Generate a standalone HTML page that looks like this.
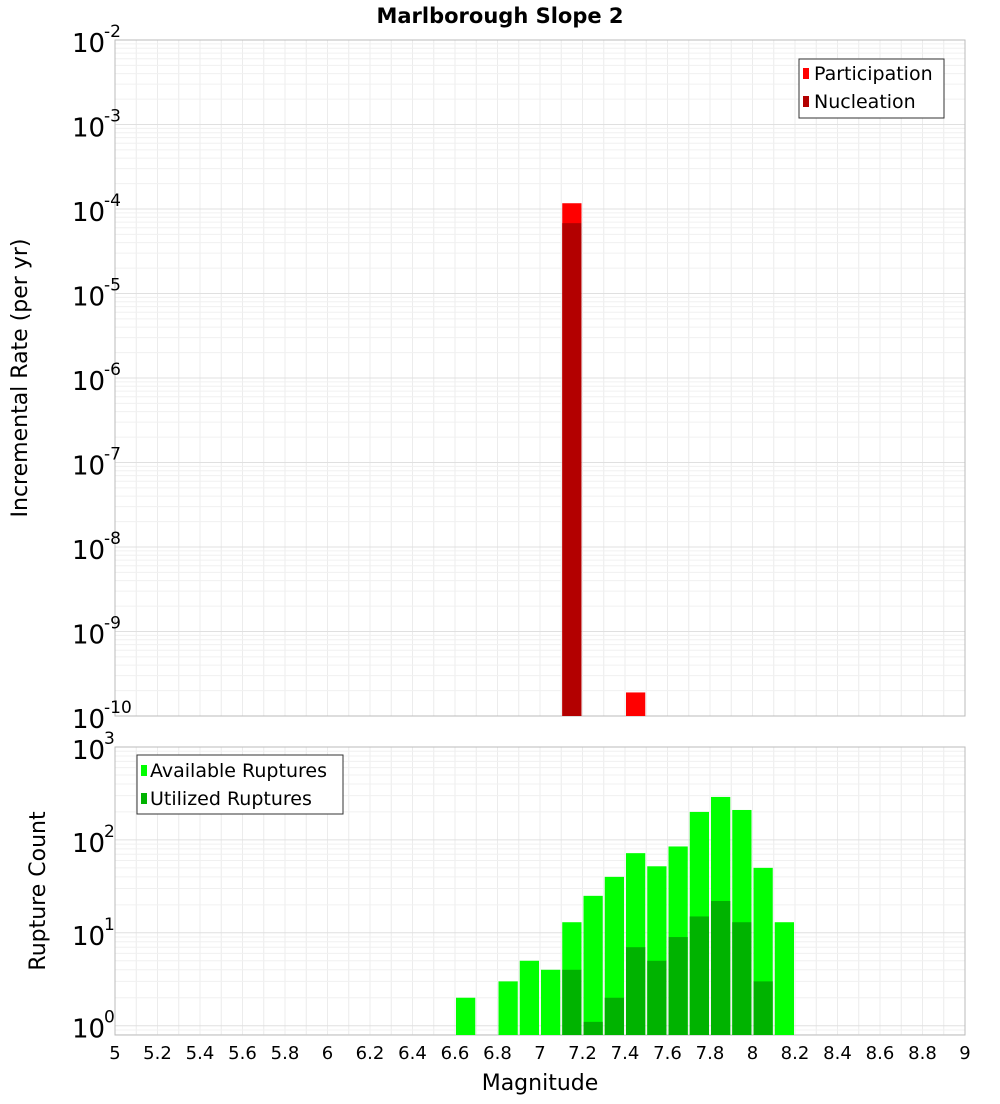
<!DOCTYPE html>
<html><head><meta charset="utf-8"><style>
body{margin:0;background:#fff;font-family:"DejaVu Sans","Liberation Sans",sans-serif}
</style></head><body>
<svg id="c" width="1000" height="1100" xmlns="http://www.w3.org/2000/svg" font-family="DejaVu Sans, Liberation Sans, sans-serif">
<text x="500" y="23" text-anchor="middle" font-size="21" font-weight="bold">Marlborough Slope 2</text>
<g id="topg"></g>
<g id="botg"></g>
<text transform="translate(27,378) rotate(-90)" text-anchor="middle" font-size="22">Incremental Rate (per yr)</text>
<text transform="translate(45,891) rotate(-90)" text-anchor="middle" font-size="22">Rupture Count</text>
<text x="540" y="1090" text-anchor="middle" font-size="22">Magnitude</text>
<g id="legs"></g>
</svg>
<script>
const xTicks=[5,5.2,5.4,5.6,5.8,6,6.2,6.4,6.6,6.8,7,7.2,7.4,7.6,7.8,8,8.2,8.4,8.6,8.8,9];
const partMags=[7.15,7.45];
const partRates=[1.17e-4,1.9e-10];
const nuclMags=[7.15];
const nuclRates=[6.8e-5];
const ruptMags=[6.65,6.85,6.95,7.05,7.15,7.25,7.35,7.45,7.55,7.65,7.75,7.85,7.95,8.05,8.15];
const availCounts=[2,3,5,4,13,25,40,72,52,85,200,290,210,50,13];
const usedMags=[7.15,7.25,7.35,7.45,7.55,7.65,7.75,7.85,7.95,8.05];
const usedCounts=[4,1.1,2,7,5,9,15,22,13,3];
const topExps=[-2,-3,-4,-5,-6,-7,-8,-9,-10];
const botExps=[3,2,1,0];
const NS="http://www.w3.org/2000/svg";
const L=115,R=965;
const xS=m=>L+(m-5)/4*(R-L);
function mk(p,t,a){const e=document.createElementNS(NS,t);for(const k in a)e.setAttribute(k,a[k]);p.appendChild(e);return e;}
function panel(g,T,B,lmin,lmax,exps){
 const yS=v=>B-(Math.log10(v)-lmin)/(lmax-lmin)*(B-T);
 for(let i=0;i<=40;i++){const m=5+i*0.1;mk(g,'line',{x1:xS(m),x2:xS(m),y1:T,y2:B,stroke:'#ececec'});}
 for(let e=Math.floor(lmin);e<lmax;e++)for(let k=1;k<10;k++){const v=k*Math.pow(10,e);const lv=Math.log10(v);if(lv<lmin||lv>lmax)continue;const y=yS(v);mk(g,'line',{x1:L,x2:R,y1:y,y2:y,stroke:k==1?'#e0e0e0':'#f0f0f0'});}
 const fr=mk(g,'rect',{x:L,y:T,width:R-L,height:B-T,fill:'none',stroke:'#bbb'});
 
 
 exps.forEach(e=>{const y=yS(Math.pow(10,e));const t=mk(g,'text',{x:72,y:y+12,'font-size':26});t.textContent='10';
  
  
  const s=mk(g,'text',{x:104,y:y-3,'font-size':17});s.textContent=String(e);
  
  });
 return yS;
}
const topG=document.getElementById('topg'),botG=document.getElementById('botg');
const yT=panel(topG,40,716,-10,-2,topExps);
function bars(g,ms,vs,yS,B,col,name){ms.forEach((m,i)=>{const x0=xS(m-0.05)+1,x1=xS(m+0.05)-1;const y=yS(vs[i]);const r=mk(g,'rect',{x:x0,y:y,width:x1-x0,height:B-y,fill:col});
 
 });}
bars(topG,partMags,partRates,yT,716,'#ff0000','participation-bar');
bars(topG,nuclMags,nuclRates,yT,716,'#b30000','nucleation-bar');
const yB=panel(botG,747,1035,-0.1,3,botExps);
bars(botG,ruptMags,availCounts,yB,1035,'#00ff00','available-bar');
bars(botG,usedMags,usedCounts,yB,1035,'#00b300','utilized-bar');
xTicks.forEach(m=>{const t=mk(botG,'text',{x:xS(m),y:1059,'font-size':18,'text-anchor':'middle'});t.textContent=String(m);
 
 });
document.getElementById('legs').innerHTML=`
<g>
<rect x="799" y="59" width="145" height="59" fill="#fff" stroke="#333"/>
<rect x="803" y="68" width="6" height="11" fill="#ff0000"/>
<text x="814" y="80" font-size="19">Participation</text>
<rect x="803" y="96" width="6" height="11" fill="#b30000"/>
<text x="814" y="108" font-size="19">Nucleation</text>
</g>
<g>
<rect x="137" y="755" width="206" height="59" fill="#fff" stroke="#333"/>
<rect x="141" y="765" width="6" height="11" fill="#00ff00"/>
<text x="150" y="777" font-size="19">Available Ruptures</text>
<rect x="141" y="793" width="6" height="11" fill="#00b300"/>
<text x="150" y="805" font-size="19">Utilized Ruptures</text>
</g>`;
</script>
</body></html>
